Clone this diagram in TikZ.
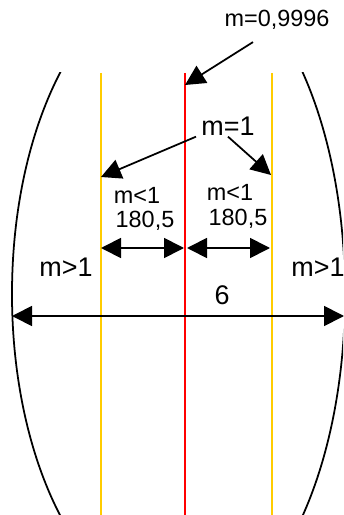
\documentclass[tikz,border=0pt]{standalone}
\usepackage{fontspec}
\setmainfont{Liberation Sans}
\usepackage{xcolor}
\definecolor{gold}{HTML}{FFCC00}
\usetikzlibrary{arrows.meta}

\begin{document}
\begin{tikzpicture}[x=0.03cm,y=-0.03cm,>={Triangle[length=0.6cm,width=0.6cm]},
  lbl/.style={inner sep=1pt,font=\fontsize{20}{22}\selectfont},
  big/.style={inner sep=1pt,font=\fontsize{23}{26}\selectfont},
  zone/.style={line width=1.5pt,gold},
  pt/.style={->,line width=1.5pt},
  dim/.style={<->,line width=1.5pt}]
  \useasboundingbox (0,0) rectangle (343,515);
  \begin{scope}
    \clip (0,73) rectangle (181.5,515);
    \draw[line width=1.5pt](181.5,294) ellipse [x radius=5.085cm,y radius=9.51cm];
  \end{scope}
  \begin{scope}
    \clip (181.5,73) rectangle (343,515);
    \draw[line width=1.5pt](181.5,294) ellipse [x radius=4.905cm,y radius=9.9cm];
  \end{scope}
  \draw[zone](101,73)--(101,515);
  \draw[zone](272,73)--(272,515);
  \draw[line width=1.5pt,red](185,73)--(185,515);
  \coordinate (redtip) at (185,85);
  \coordinate (ltip) at (101,177);
  \coordinate (rtip) at (271,175);
  \coordinate (la) at (101,248);
  \coordinate (lb) at (184,248);
  \coordinate (ra) at (187,248);
  \coordinate (rb) at (270,248);
  \coordinate (wa) at (12,316);
  \coordinate (wb) at (344,316);
  \node[lbl] (top) at (277,20) {m=0,9996};
  \node[big] (one) at (228,126) {m=1};
  \node[lbl] (lless) at (137,195) {m<1};
  \node[lbl] (lval) at (145,221) {180,5};
  \node[lbl] (rless) at (230,192) {m<1};
  \node[lbl] (rval) at (238,219) {180,5};
  \node[big] (lmore) at (66,267) {m>1};
  \node[big] (rmore) at (318,267) {m>1};
  \node[big] (six) at (222,295) {6};
  \draw[pt]([xshift=-0.72cm,yshift=-0.33cm]top.south)--(redtip);
  \draw[pt]([xshift=-0.96cm]one.south)--(ltip);
  \draw[pt](one.south)--(rtip);
  \draw[dim](la)--(lb);
  \draw[dim](ra)--(rb);
  \draw[dim](wa)--(wb);
\end{tikzpicture}
\end{document}
